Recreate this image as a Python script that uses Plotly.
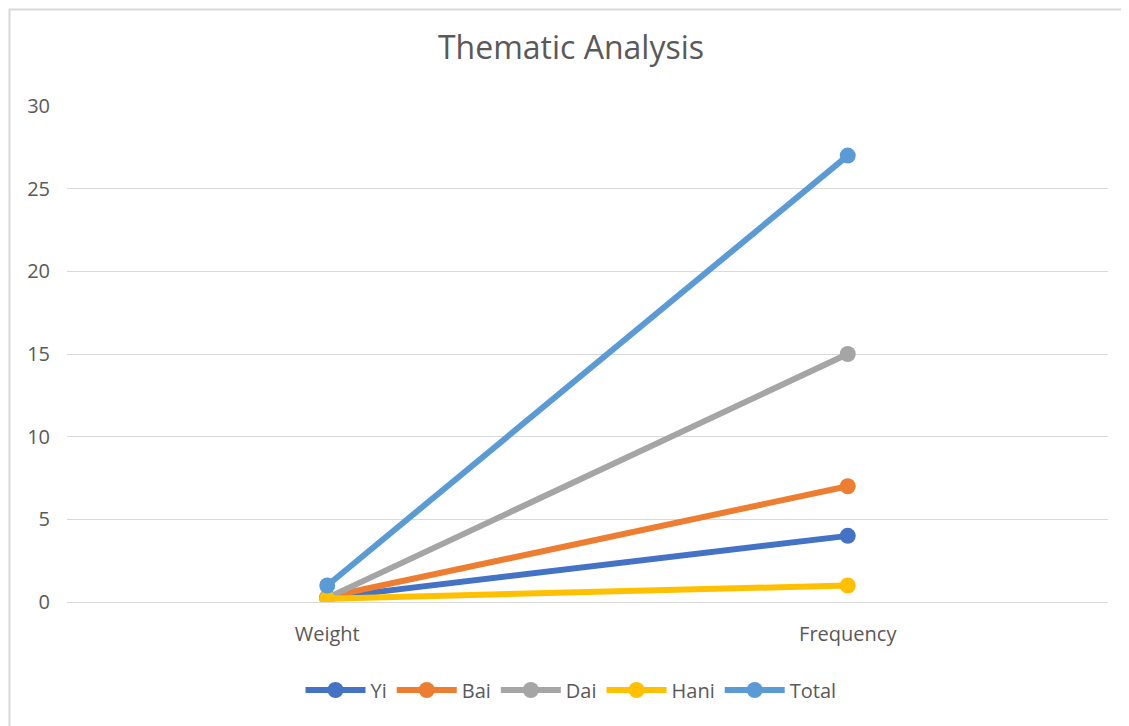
import plotly.graph_objects as go

categories = ["Weight", "Frequency"]
series_names = ["Yi", "Bai", "Dai", "Hani", "Total"]
yi = [0.25, 4]
bai = [0.3, 7]
dai = [0.25, 15]
hani = [0.2, 1]
total = [1, 27]
colors = ["#4472C4", "#ED7D31", "#A5A5A5", "#FFC000", "#5B9BD5"]

OFF = 8  # page body margin
W, H = 1129 - OFF, 726 - OFF
L, T = 67 - OFF, 106 - OFF
R = W - (1108 - OFF)
B = H - (602 - OFF)
pw, ph = W - L - R, H - T - B

fig = go.Figure()
for name, vals, c in zip(series_names, [yi, bai, dai, hani, total], colors):
    fig.add_trace(go.Scatter(
        x=[0, 1], y=vals, name=name, mode="lines+markers",
        line=dict(color=c, width=6),
        marker=dict(color=c, size=16),
    ))

def px_x(p):
    return (p - OFF - L) / pw

def px_y(p):
    return (H - B - (p - OFF)) / ph

fig.update_layout(
    width=W, height=H,
    margin=dict(l=L, r=R, t=T, b=B),
    paper_bgcolor="white", plot_bgcolor="white",
    font=dict(family="Open Sans, Liberation Sans, sans-serif", color="#595959", size=19),
    title=dict(text="Thematic Analysis", x=(571 - OFF) / W, xanchor="center",
               y=1 - (48 - OFF) / H, yref="container", yanchor="middle",
               font=dict(size=32, color="#595959")),
    xaxis=dict(
        range=[-0.5, 1.5], tickmode="array", tickvals=[0, 1], ticktext=categories,
        showgrid=False, zeroline=False, showline=False, ticks="",
        tickfont=dict(size=20, color="#595959"), ticklabelstandoff=18, fixedrange=True,
    ),
    yaxis=dict(
        range=[0, 30], dtick=5, showgrid=True, gridcolor="#D9D9D9", gridwidth=1.3,
        zeroline=True, zerolinecolor="#D9D9D9", zerolinewidth=1.3, showline=False,
        tickfont=dict(size=20, color="#595959"), ticklabelstandoff=16, fixedrange=True,
    ),
    legend=dict(orientation="h", x=px_x(571), xanchor="center", y=px_y(690), yanchor="middle",
                font=dict(size=20, color="#595959"), itemwidth=60, tracegroupgap=0),
    showlegend=True,
)
fig.add_shape(type="rect", xref="paper", yref="paper",
              x0=px_x(9.5), x1=px_x(1140), y0=px_y(740), y1=px_y(9.5),
              line=dict(color="#D9D9D9", width=2), fillcolor="rgba(0,0,0,0)", layer="below")

fig.write_html("out.html")
